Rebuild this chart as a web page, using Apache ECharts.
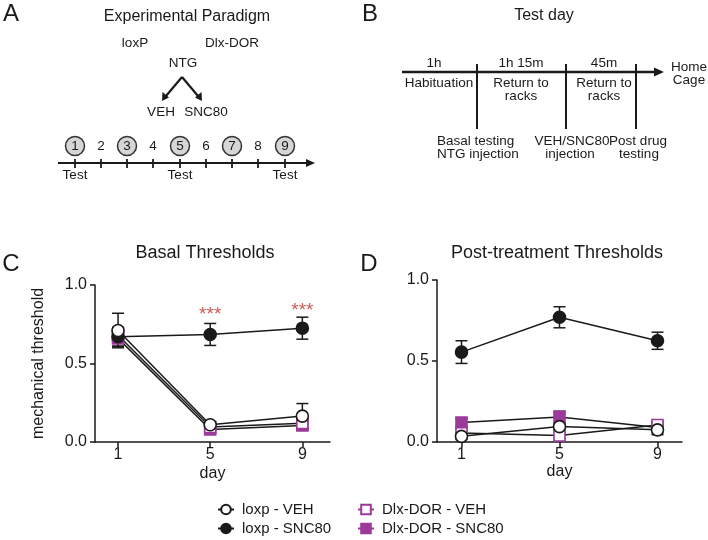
<!DOCTYPE html>
<html>
<head>
<meta charset="utf-8">
<script src="https://cdn.jsdelivr.net/npm/echarts@6/dist/echarts.min.js"></script>
<style>
html,body{margin:0;padding:0;background:#fff;}
#chart{width:708px;height:540px;}
</style>
</head>
<body>
<div id="chart"></div>
<script>
// ---- data ----
const days = [1, 5, 9];
const tickDays = [1, 5, 9];
const yTicks = [0, 0.5, 1.0];

// Basal thresholds (panel C): means and SEM
const basalLoxpVEH   = [0.71, 0.11, 0.165];
const basalLoxpVEHe  = [0.11, 0.02, 0.08];
const basalLoxpSNC   = [0.67, 0.685, 0.725];
const basalLoxpSNCe  = [0.06, 0.07, 0.07];
const basalDlxVEH    = [0.68, 0.095, 0.12];
const basalDlxVEHe   = [0.05, 0.02, 0.03];
const basalDlxSNC    = [0.66, 0.08, 0.105];
const basalDlxSNCe   = [0.05, 0.02, 0.03];
const basalStars     = [[5, 0.81], [9, 0.835]];

// Post-treatment thresholds (panel D)
const postLoxpVEH    = [0.035, 0.095, 0.075];
const postLoxpVEHe   = [0.02, 0.02, 0.03];
const postLoxpSNC    = [0.555, 0.77, 0.625];
const postLoxpSNCe   = [0.07, 0.065, 0.053];
const postDlxVEH     = [0.055, 0.04, 0.105];
const postDlxVEHe    = [0.02, 0.02, 0.02];
const postDlxSNC     = [0.12, 0.155, 0.09];
const postDlxSNCe    = [0.025, 0.035, 0.015];

const names = ['loxp - VEH', 'loxp - SNC80', 'Dlx-DOR - VEH', 'Dlx-DOR - SNC80'];

// ---- styles ----
const FONT = '"Liberation Sans", Arial, Helvetica, sans-serif';
const INK = '#1a1a1a';
const PURPLE = '#9b3a9a';

const styles = {
  'loxp - VEH':      {symbol: 'circle', size: 12, color: '#ffffff', border: INK},
  'loxp - SNC80':    {symbol: 'circle', size: 12, color: INK, border: INK},
  'Dlx-DOR - VEH':   {symbol: 'rect', size: 11, color: '#ffffff', border: PURPLE},
  'Dlx-DOR - SNC80': {symbol: 'rect', size: 11, color: PURPLE, border: PURPLE}
};

function pts(vals) { return days.map((d, i) => [d, vals[i]]); }
function errs(vals, e) { return days.map((d, i) => [d, vals[i] - e[i], vals[i] + e[i]]); }

function errRender(params, api) {
  const x = api.value(0), lo = api.value(1), hi = api.value(2);
  const a = api.coord([x, hi]), b = api.coord([x, lo]);
  const w = 6;
  const st = {stroke: INK, lineWidth: 1.5};
  return {type: 'group', children: [
    {type: 'line', shape: {x1: a[0], y1: a[1], x2: b[0], y2: b[1]}, style: st},
    {type: 'line', shape: {x1: a[0] - w, y1: a[1], x2: a[0] + w, y2: a[1]}, style: st},
    {type: 'line', shape: {x1: b[0] - w, y1: b[1], x2: b[0] + w, y2: b[1]}, style: st}
  ]};
}

function lineSeries(name, vals, idx, z) {
  const s = styles[name];
  return {
    type: 'line', name: name, xAxisIndex: idx, yAxisIndex: idx,
    data: pts(vals), symbol: s.symbol, symbolSize: s.size, showAllSymbol: true,
    itemStyle: {color: s.color, borderColor: s.border, borderWidth: 1.6},
    lineStyle: {color: INK, width: 1.5},
    z: z, silent: true
  };
}
function errSeries(name, vals, e, idx) {
  return {
    type: 'custom', name: name + ' err', xAxisIndex: idx, yAxisIndex: idx,
    data: errs(vals, e), renderItem: errRender, encode: {x: 0, y: [1, 2]},
    z: 1, silent: true
  };
}

const groupsC = [
  ['Dlx-DOR - SNC80', basalDlxSNC, basalDlxSNCe],
  ['Dlx-DOR - VEH', basalDlxVEH, basalDlxVEHe],
  ['loxp - SNC80', basalLoxpSNC, basalLoxpSNCe],
  ['loxp - VEH', basalLoxpVEH, basalLoxpVEHe]
];
const groupsD = [
  ['Dlx-DOR - SNC80', postDlxSNC, postDlxSNCe],
  ['Dlx-DOR - VEH', postDlxVEH, postDlxVEHe],
  ['loxp - SNC80', postLoxpSNC, postLoxpSNCe],
  ['loxp - VEH', postLoxpVEH, postLoxpVEHe]
];

const series = [];
groupsC.forEach((g, i) => { series.push(errSeries(g[0], g[1], g[2], 0)); });
groupsD.forEach((g, i) => { series.push(errSeries(g[0], g[1], g[2], 1)); });
groupsC.forEach((g, i) => { series.push(lineSeries(g[0], g[1], 0, 3 + i)); });
groupsD.forEach((g, i) => { series.push(lineSeries(g[0], g[1], 1, 3 + i)); });
series.push({
  type: 'scatter', name: 'stars', xAxisIndex: 0, yAxisIndex: 0, data: basalStars,
  symbolSize: 0, silent: true, z: 10,
  label: {show: true, position: 'inside', formatter: '***', color: '#c0312b', fontSize: 19, fontFamily: FONT}
});

function xAxis(gi, max, gap) {
  return {
    type: 'value', gridIndex: gi, min: 0, max: max,
    name: 'day', nameLocation: 'middle', nameGap: gap,
    nameTextStyle: {color: INK, fontSize: 16, fontFamily: FONT},
    axisLine: {show: true, lineStyle: {color: INK, width: 1.5}},
    axisTick: {show: true, customValues: tickDays, length: 5, lineStyle: {color: INK, width: 1.5}},
    axisLabel: {customValues: tickDays, margin: 5, color: INK, fontSize: 16, fontFamily: FONT},
    splitLine: {show: false}
  };
}
function yAxis(gi, name) {
  return {
    type: 'value', gridIndex: gi, min: 0, max: 1, interval: 0.5,
    name: name, nameLocation: 'middle', nameGap: 48,
    nameTextStyle: {color: INK, fontSize: 16, fontFamily: FONT},
    axisLine: {show: true, lineStyle: {color: INK, width: 1.5}},
    axisTick: {show: true, length: 5, lineStyle: {color: INK, width: 1.5}},
    axisLabel: {margin: 8, color: INK, fontSize: 16, fontFamily: FONT, formatter: v => v.toFixed(1)},
    splitLine: {show: false}
  };
}

// ---- diagram helpers ----
function T(x, y, text, size, align) {
  return {type: 'text', x: x, y: y, silent: true,
    style: {text: text, fill: INK, font: size + 'px ' + FONT, align: align || 'center', verticalAlign: 'middle'}};
}
function L(x1, y1, x2, y2, w) {
  return {type: 'line', silent: true, shape: {x1: x1, y1: y1, x2: x2, y2: y2}, style: {stroke: INK, lineWidth: w || 1.5}};
}
function P(points) {
  return {type: 'polygon', silent: true, shape: {points: points}, style: {fill: INK}};
}

const g = [];
// panel letters
g.push(T(11, 14, 'A', 24), T(370, 14, 'B', 24), T(11, 264, 'C', 24), T(369, 264, 'D', 24));
// Panel A
g.push(T(187, 17, 'Experimental Paradigm', 16));
g.push(T(135, 43, 'loxP', 13.5), T(232, 43, 'Dlx-DOR', 13.5), T(183, 63, 'NTG', 13.5));
g.push(L(182, 77, 166, 96, 2.2), P([[162, 101], [162.5, 92], [169, 97.5]]));
g.push(L(182, 77, 198, 96, 2.2), P([[202, 101], [201.5, 92], [195, 97.5]]));
g.push(T(161, 112, 'VEH', 13.5), T(206, 112, 'SNC80', 13.5));
const tlX = [75, 101, 127, 153, 180, 206, 232, 258, 285];
tlX.forEach((x, i) => {
  const n = String(i + 1);
  if (i % 2 === 0) {
    g.push({type: 'circle', silent: true, shape: {cx: x, cy: 146, r: 9.5}, style: {fill: '#d6d6d6', stroke: '#333', lineWidth: 1.5}});
  }
  g.push(T(x, 146, n, 13.5));
  g.push(L(x, 159, x, 168, 1.8));
});
g.push(L(58, 163, 308, 163, 2), P([[315, 163], [306, 159], [306, 167]]));
g.push(T(75, 175, 'Test', 13.5), T(180, 175, 'Test', 13.5), T(285, 175, 'Test', 13.5));
// Panel B
g.push(T(544, 16, 'Test day', 16));
g.push(L(402, 72, 656, 72, 2.5), P([[664, 72], [654, 67.5], [654, 76.5]]));
g.push(L(477, 64, 477, 129, 2), L(566, 64, 566, 129, 2), L(636, 64, 636, 129, 2));
g.push(T(434, 63, '1h', 13.5), T(521, 63, '1h 15m', 13.5), T(604, 63, '45m', 13.5));
g.push(T(439, 83, 'Habituation', 13.5));
g.push(T(521, 83, 'Return to', 13.5), T(521, 96, 'racks', 13.5));
g.push(T(604, 83, 'Return to', 13.5), T(604, 96, 'racks', 13.5));
g.push(T(689, 67, 'Home', 13.5), T(689, 80, 'Cage', 13.5));
g.push(T(437, 141, 'Basal testing', 13.5, 'left'), T(437, 154, 'NTG injection', 13.5, 'left'));
g.push(T(572, 141, 'VEH/SNC80', 13.5), T(570, 154, 'injection', 13.5));
g.push(T(638, 141, 'Post drug', 13.5), T(639, 154, 'testing', 13.5));
// Panel titles C, D
g.push(T(205, 253, 'Basal Thresholds', 18), T(557, 253, 'Post-treatment Thresholds', 18));

function legendItem(left, top, item) {
  return {
    orient: 'horizontal', left: left, top: top, itemWidth: 16, itemHeight: 12,
    selectedMode: false, padding: 0,
    textStyle: {color: INK, fontSize: 15, fontFamily: FONT, padding: [0, 0, 0, 3]},
    data: [item]
  };
}

const option = {
  animation: false,
  backgroundColor: '#ffffff',
  graphic: g,
  legend: [
    legendItem(217, 502, {name: 'loxp - VEH'}),
    legendItem(217, 521, {name: 'loxp - SNC80'}),
    legendItem(357, 502, {name: 'Dlx-DOR - VEH', lineStyle: {color: PURPLE}}),
    legendItem(357, 521, {name: 'Dlx-DOR - SNC80', lineStyle: {color: PURPLE}})
  ],
  grid: [
    {left: 95, top: 285, width: 235, height: 157},
    {left: 437, top: 280, width: 245, height: 162}
  ],
  xAxis: [xAxis(0, 10.2, 24), xAxis(1, 10, 18)],
  yAxis: [yAxis(0, 'mechanical threshold'), yAxis(1, '')],
  series: series
};

const chart = echarts.init(document.getElementById('chart'), null, {renderer: 'canvas'});
chart.setOption(option);
</script>
</body>
</html>
